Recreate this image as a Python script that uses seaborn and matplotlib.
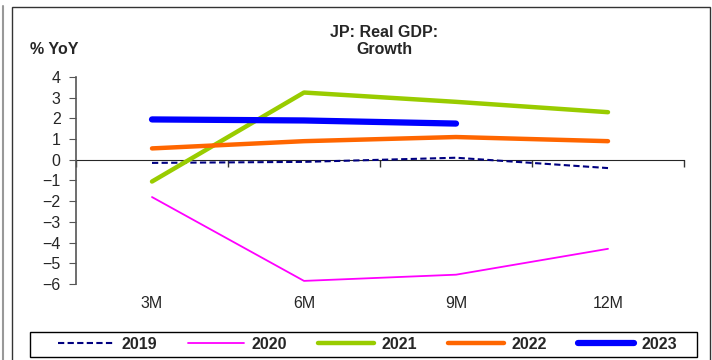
import numpy as np
import pandas as pd
import seaborn as sns
import matplotlib.pyplot as plt
from matplotlib.patches import Rectangle
from matplotlib.lines import Line2D

# data (% YoY, cumulative real GDP growth)
periods = ["3M", "6M", "9M", "12M"]
years = ["2019", "2020", "2021", "2022", "2023"]
y2019 = [-0.15, -0.1, 0.1, -0.4]
y2020 = [-1.8, -5.85, -5.55, -4.3]
y2021 = [-1.05, 3.25, 2.8, 2.3]
y2022 = [0.55, 0.9, 1.1, 0.9]
y2023 = [1.95, 1.9, 1.75]

colors = ["#000080", "#FF00FF", "#99CC00", "#FF6600", "#0000FF"]
widths = [1.5, 1.3, 3.2, 3.2, 4.5]
styles = [(0, (3, 1.6)), "-", "-", "-", "-"]

sns.set_style("white")
plt.rcParams["font.family"] = ["Liberation Sans", "DejaVu Sans"]

rows = []
for yr, vals in zip(years, [y2019, y2020, y2021, y2022, y2023]):
    for i, v in enumerate(vals):
        rows.append({"year": yr, "pos": i, "value": v})
df = pd.DataFrame(rows)

fig = plt.figure(figsize=(7.12, 3.6), dpi=100)
ax = fig.add_axes([76 / 712, 1 - 284 / 360, 608 / 712, 207 / 360])

handles = []
for yr, c, lw, ls in zip(years, colors, widths, styles):
    sns.lineplot(data=df[df["year"] == yr], x="pos", y="value", color=c,
                 linewidth=lw, linestyle=ls, ax=ax, legend=False,
                 solid_capstyle="round")
    handles.append(Line2D([], [], color=c, linewidth=lw, linestyle=ls))

ax.set_xlim(-0.5, len(periods) - 0.5)
ax.set_ylim(-6, 4)
ax.set_yticks(range(-6, 5))
ax.set_xticks(range(len(periods)), periods)
ax.set_xlabel("")
ax.set_ylabel("")
for s in ["top", "right", "bottom"]:
    ax.spines[s].set_visible(False)
ax.spines["left"].set_color("#555555")
ax.spines["left"].set_linewidth(1.2)
ax.tick_params(axis="y", direction="out", length=5, color="#555555",
               labelsize=11.5, pad=6, left=True)
ax.tick_params(axis="x", length=0, labelsize=11.5, pad=9)

# zero line with category boundary ticks (pointing down)
zero_loc = (0 - (-6)) / (4 - (-6))
sec = ax.secondary_xaxis(zero_loc)
sec.set_xticks(np.arange(len(periods) + 1) - 0.5, labels=[])
sec.tick_params(direction="in", length=5, color="#333333", width=1)
sec.spines["bottom"].set_color("#333333")
sec.spines["bottom"].set_linewidth(1)

fig.text(384 / 712, 1 - 41 / 360, "JP: Real GDP:\nGrowth", ha="center",
         va="center", fontsize=11.5, fontweight="bold", linespacing=1.15)
fig.text(30 / 712, 1 - 49 / 360, "% YoY", ha="left", va="center",
         fontsize=11.5, fontweight="bold")

# legend entries spread over the inner part, box drawn separately
leg = fig.legend(handles, years, loc="center",
                 bbox_to_anchor=(55 / 712, 1 - 357 / 360, 625 / 712, 25 / 360),
                 mode="expand", ncol=5, frameon=False,
                 handlelength=3.5, handletextpad=0.45, borderpad=0.2,
                 borderaxespad=0, prop={"weight": "bold", "size": 11.5})
fig.patches.append(Rectangle((30 / 712, 1 - 357 / 360), 667 / 712, 25 / 360,
                             transform=fig.transFigure, fill=False,
                             edgecolor="black", linewidth=1))

# outer frames
fig.patches.append(Rectangle((12 / 712, -0.05), 698 / 712, 1.05 - 7 / 360,
                             transform=fig.transFigure, fill=False,
                             edgecolor="#333333", linewidth=1))
fig.lines.append(Line2D([3 / 712, 3 / 712], [0, 1 - 6 / 360],
                        transform=fig.transFigure, color="#999999", linewidth=1.5))

fig.savefig("out.png", dpi=100)
